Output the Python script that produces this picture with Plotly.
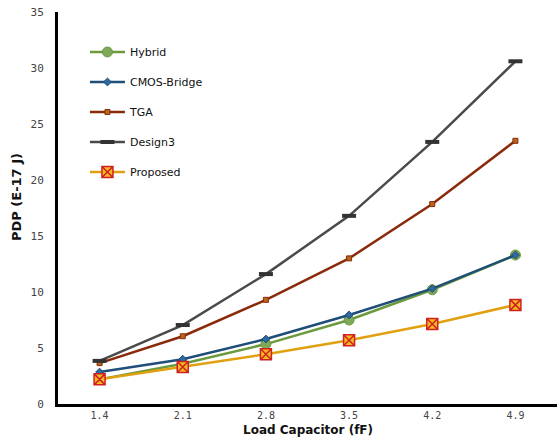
import plotly.graph_objects as go

x_labels = ["1.4", "2.1", "2.8", "3.5", "4.2", "4.9"]
hybrid = [2.2, 3.6, 5.35, 7.5, 10.2, 13.3]
cmos_bridge = [2.85, 4.0, 5.8, 7.95, 10.3, 13.3]
tga = [3.65, 6.05, 9.3, 13.0, 17.85, 23.5]
design3 = [3.85, 7.05, 11.6, 16.8, 23.4, 30.6]
proposed = [2.2, 3.3, 4.45, 5.7, 7.15, 8.85]
y_ticks = [0, 5, 10, 15, 20, 25, 30, 35]

fig = go.Figure()

series = [
    ("Hybrid", hybrid, "#6b9a3d", dict(symbol="circle", size=10, color="#7fa85a", line=dict(color="#6b9a3d", width=1))),
    ("CMOS-Bridge", cmos_bridge, "#1f4e79", dict(symbol="diamond", size=6, color="#2e6a9e", line=dict(color="#1f4e79", width=1))),
    ("TGA", tga, "#8b2a0a", dict(symbol="square", size=5, color="#b5651d", line=dict(color="#8b2a0a", width=1))),
    ("Design3", design3, "#4a4a4a", dict(symbol="line-ew", size=10, color="#333333", line=dict(color="#333333", width=4))),
    ("Proposed", proposed, "#e0a010", dict(symbol="square-x", size=11, color="#f5b820", line=dict(color="#d02020", width=1.5))),
]

for i, (name, vals, col, mk) in enumerate(series):
    fig.add_trace(go.Scatter(
        x=x_labels, y=vals, name=name, mode="lines+markers",
        line=dict(color=col, width=2.5), marker=mk, legendgroup=f"g{i}",
    ))

fig.update_layout(
    width=557, height=437,
    margin=dict(l=58, r=0, t=12, b=33),
    plot_bgcolor="white", paper_bgcolor="white",
    font=dict(family="DejaVu Sans", size=10, color="#222222"),
    legend=dict(x=0.054, y=0.935, xanchor="left", yanchor="top",
                bgcolor="rgba(0,0,0,0)", font=dict(size=11, color="#111111"),
                tracegroupgap=11, itemwidth=35),
    xaxis=dict(type="category", range=[-0.5, 5.5], automargin=False,
               showgrid=False, zeroline=False, showline=True, linecolor="black", linewidth=3,
               ticks="", ticklabelstandoff=0,
               tickfont=dict(family="DejaVu Sans Mono", size=10, color="#444444")),
    yaxis=dict(range=[0, 35], tickvals=y_ticks, automargin=False,
               showgrid=False, zeroline=False, showline=True, linecolor="black", linewidth=3,
               ticks="", ticklabelstandoff=9,
               tickfont=dict(family="DejaVu Sans Mono", size=11, color="#444444")),
    annotations=[
        dict(text="<b>Load Capacitor (fF)</b>", xref="paper", yref="paper", x=0.5, y=0,
             yshift=-26, showarrow=False, yanchor="middle",
             font=dict(family="DejaVu Sans", size=12, color="#111111")),
        dict(text="<b>PDP (E-17 J)</b>", xref="paper", yref="paper", x=0, y=0.528,
             xshift=-42, showarrow=False, textangle=-90, xanchor="center",
             font=dict(family="DejaVu Sans", size=13, color="#111111")),
    ],
)

fig.write_html("out.html", config={"displayModeBar": False},
               post_script="document.body.style.margin='0';document.body.style.overflow='hidden';")
